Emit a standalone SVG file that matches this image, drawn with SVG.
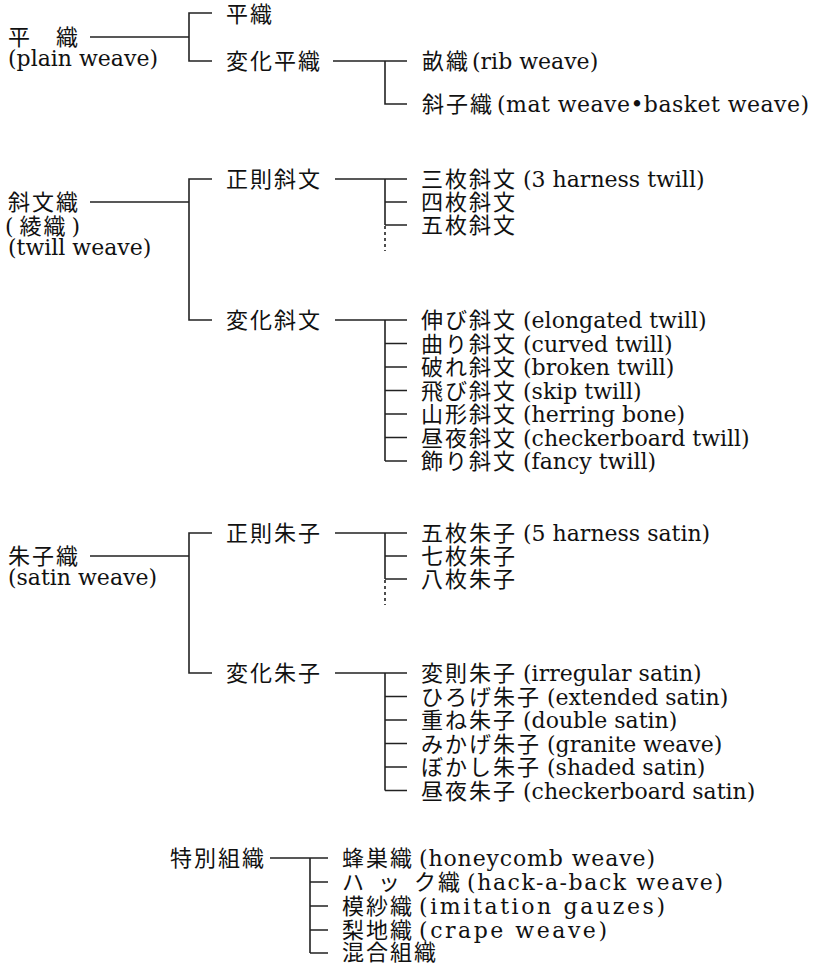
<svg xmlns="http://www.w3.org/2000/svg" width="818" height="965" viewBox="0 0 818 965">
<style>
.j{font-family:"Noto Sans CJK JP","Noto Sans CJK SC",sans-serif;font-size:22px;letter-spacing:2px;fill:#111}
.l{font-family:"DejaVu Serif","Liberation Serif",serif;font-size:22px;letter-spacing:0;fill:#111}
.c{stroke:#222;stroke-width:1.6;fill:none}
.d{stroke-dasharray:3 3}
</style>
<rect width="818" height="965" fill="#fff"/>
<g id="connectors">
  <path class="c" d="M90 37H189M212 13H189V61H212"/>
  <path class="c" d="M333 61H407M385 61V104H407"/>
  <path class="c" d="M90 202H189M212 179H189V320H212"/>
  <path class="c" d="M335 179H407M385 179V225M385 202H407M385 225H407"/>
  <path class="c d" d="M385 226V251"/>
  <path class="c" d="M335 320H407M385 320V461M385 343.5H407M385 367H407M385 390.5H407M385 414H407M385 437.5H407M385 461H407"/>
  <path class="c" d="M90 556H189M212 533H189V673H212"/>
  <path class="c" d="M335 533H407M385 533V579M385 556H407M385 579H407"/>
  <path class="c d" d="M385 580V605"/>
  <path class="c" d="M335 673H407M385 673V790.5M385 696.5H407M385 720H407M385 743.5H407M385 767H407M385 790.5H407"/>
  <path class="c" d="M270 858H328M310 858V953M310 882H328M310 906H328M310 930H328M310 953H328"/>
</g>
<g id="plain">
  <text class="j" x="8" y="45">平　織</text>
  <text class="l" x="8" y="66">(plain weave)</text>
</g>
<g id="plain-plain"><text class="j" x="226" y="22">平織</text></g>
<g id="plain-var"><text class="j" x="226" y="69">変化平織</text></g>
<g id="rib"><text x="422" y="69"><tspan class="j">畝織</tspan><tspan class="l" dx="2">(rib weave)</tspan></text></g>
<g id="mat"><text x="422" y="112"><tspan class="j">斜子織</tspan><tspan class="l" dx="3" textLength="312" lengthAdjust="spacing">(mat weave•basket weave)</tspan></text></g>

<g id="twill">
  <text class="j" x="8" y="210">斜文織</text>
  <text x="5" y="234"><tspan class="l">(</tspan><tspan class="j" dx="6">綾織</tspan><tspan class="l" dx="4">)</tspan></text>
  <text class="l" x="8" y="255">(twill weave)</text>
</g>
<g id="twill-reg"><text class="j" x="226" y="187">正則斜文</text></g>
<g id="twill-var"><text class="j" x="226" y="328">変化斜文</text></g>
<g id="t3"><text x="421" y="187"><tspan class="j">三枚斜文</tspan><tspan class="l" dx="6">(3 harness twill)</tspan></text></g>
<g id="t4"><text class="j" x="421" y="210">四枚斜文</text></g>
<g id="t5"><text class="j" x="421" y="233">五枚斜文</text></g>
<g id="tv1"><text x="421" y="328"><tspan class="j">伸び斜文</tspan><tspan class="l" dx="6">(elongated twill)</tspan></text></g>
<g id="tv2"><text x="421" y="351.5"><tspan class="j">曲り斜文</tspan><tspan class="l" dx="6">(curved twill)</tspan></text></g>
<g id="tv3"><text x="421" y="375"><tspan class="j">破れ斜文</tspan><tspan class="l" dx="6">(broken twill)</tspan></text></g>
<g id="tv4"><text x="421" y="398.5"><tspan class="j">飛び斜文</tspan><tspan class="l" dx="6">(skip twill)</tspan></text></g>
<g id="tv5"><text x="421" y="422"><tspan class="j">山形斜文</tspan><tspan class="l" dx="6">(herring bone)</tspan></text></g>
<g id="tv6"><text x="421" y="445.5"><tspan class="j">昼夜斜文</tspan><tspan class="l" dx="6">(checkerboard twill)</tspan></text></g>
<g id="tv7"><text x="421" y="469"><tspan class="j">飾り斜文</tspan><tspan class="l" dx="6">(fancy twill)</tspan></text></g>

<g id="satin">
  <text class="j" x="8" y="564">朱子織</text>
  <text class="l" x="8" y="585">(satin weave)</text>
</g>
<g id="satin-reg"><text class="j" x="226" y="541">正則朱子</text></g>
<g id="satin-var"><text class="j" x="226" y="681">変化朱子</text></g>
<g id="s5"><text x="421" y="541"><tspan class="j">五枚朱子</tspan><tspan class="l" dx="6">(5 harness satin)</tspan></text></g>
<g id="s7"><text class="j" x="421" y="564">七枚朱子</text></g>
<g id="s8"><text class="j" x="421" y="587">八枚朱子</text></g>
<g id="sv1"><text x="421" y="681"><tspan class="j">変則朱子</tspan><tspan class="l" dx="6">(irregular satin)</tspan></text></g>
<g id="sv2"><text x="421" y="704.5"><tspan class="j">ひろげ朱子</tspan><tspan class="l" dx="6">(extended satin)</tspan></text></g>
<g id="sv3"><text x="421" y="728"><tspan class="j">重ね朱子</tspan><tspan class="l" dx="6">(double satin)</tspan></text></g>
<g id="sv4"><text x="421" y="751.5"><tspan class="j">みかげ朱子</tspan><tspan class="l" dx="6">(granite weave)</tspan></text></g>
<g id="sv5"><text x="421" y="775"><tspan class="j">ぼかし朱子</tspan><tspan class="l" dx="6">(shaded satin)</tspan></text></g>
<g id="sv6"><text x="421" y="798.5"><tspan class="j">昼夜朱子</tspan><tspan class="l" dx="6">(checkerboard satin)</tspan></text></g>

<g id="special"><text class="j" x="170" y="866">特別組織</text></g>
<g id="x1"><text x="342" y="866"><tspan class="j">蜂巣織</tspan><tspan class="l" dx="5" textLength="236" lengthAdjust="spacing">(honeycomb weave)</tspan></text></g>
<g id="x2"><text x="342" y="890"><tspan class="j" style="letter-spacing:14px">ハッ</tspan><tspan class="j">ク織</tspan><tspan class="l" dx="5" textLength="256" lengthAdjust="spacing">(hack-a-back weave)</tspan></text></g>
<g id="x3"><text x="342" y="914"><tspan class="j">模紗織</tspan><tspan class="l" dx="5" textLength="246" lengthAdjust="spacing">(imitation gauzes)</tspan></text></g>
<g id="x4"><text x="342" y="938"><tspan class="j">梨地織</tspan><tspan class="l" dx="5" textLength="188" lengthAdjust="spacing">(crape weave)</tspan></text></g>
<g id="x5"><text class="j" x="342" y="960">混合組織</text></g>
</svg>
